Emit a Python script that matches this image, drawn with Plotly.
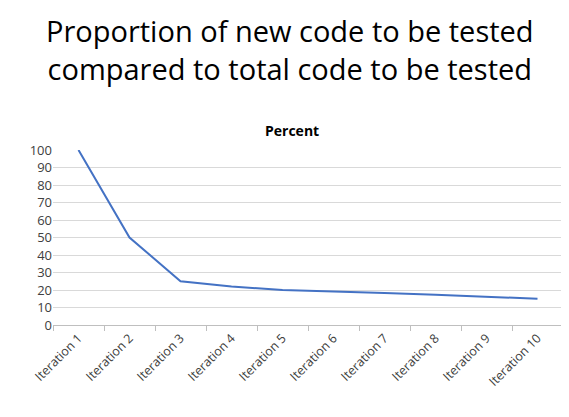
import plotly.graph_objects as go

categories = ["Iteration 1","Iteration 2","Iteration 3","Iteration 4","Iteration 5",
              "Iteration 6","Iteration 7","Iteration 8","Iteration 9","Iteration 10"]
percent = [100, 50, 25, 22, 20, 19.3, 18.3, 17.3, 16.3, 15]

fig = go.Figure(go.Scatter(x=categories, y=percent, mode="lines",
                           line=dict(color="#4472C4", width=2)))
fig.update_layout(
    width=569, height=417, plot_bgcolor="white", paper_bgcolor="white",
    margin=dict(l=45, r=14, t=142, b=100), showlegend=False,
    font=dict(family="Open Sans, Calibri, sans-serif", color="black"),
    annotations=[
        dict(text="Proportion of new code to be tested<br>compared to total code to be tested",
             x=0.5, y=1, xref="paper", yref="paper", yanchor="bottom", yshift=60,
             showarrow=False, font=dict(size=29, family="Open Sans, sans-serif"),
             xanchor="center", align="center", xshift=-18),
        dict(text="<b>Percent</b>", x=0.5, y=1, xref="paper", yref="paper", xshift=-16,
             yanchor="bottom", yshift=8, showarrow=False, font=dict(size=14)),
    ],
)
fig.update_xaxes(tickangle=-45, showgrid=False, showline=True, linecolor="#BFBFBF",
                 ticks="outside", tickson="boundaries", tickcolor="#BFBFBF", ticklen=5,
                 tickfont=dict(size=12.5, color="#404040"), range=[-0.5, 9.5])
fig.update_yaxes(range=[0, 100], dtick=10, showgrid=True, gridcolor="#D9D9D9",
                 zeroline=False, tickfont=dict(size=13, color="#404040"))
fig.write_html("out.html")
